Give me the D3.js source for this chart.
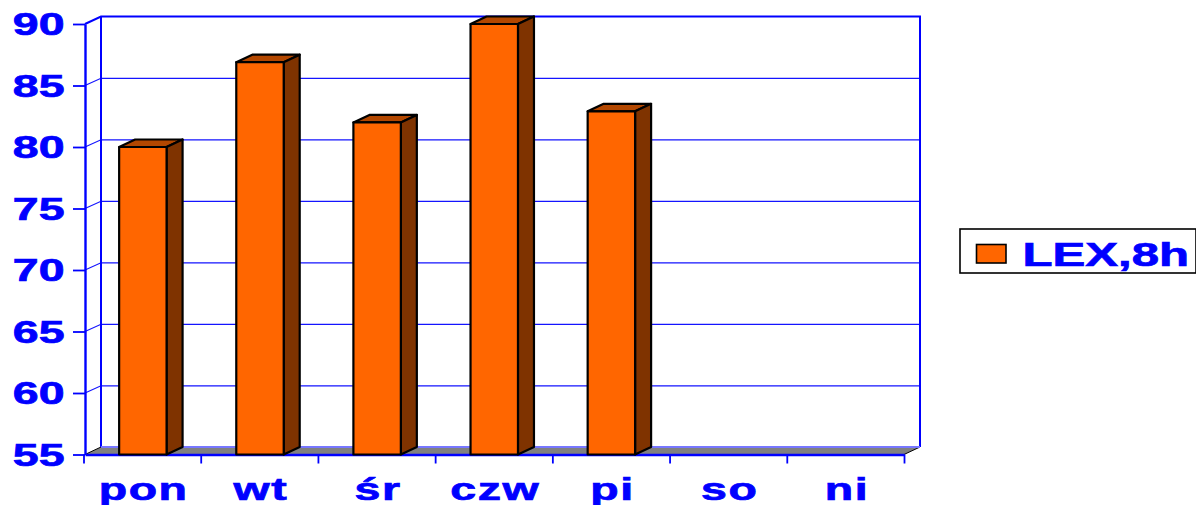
<!DOCTYPE html>
<html>
<head>
<meta charset="utf-8">
<script src="https://cdnjs.cloudflare.com/ajax/libs/d3/7.8.5/d3.min.js"></script>
<style>
  html, body { margin: 0; padding: 0; background: #fff; overflow: hidden; }
  text { font-family: "Liberation Sans", Arial, sans-serif; font-weight: bold; fill: #0000ff; stroke: #0000ff; stroke-width: 0.7px; }
</style>
</head>
<body>
<svg id="chart" width="1196" height="505"></svg>
<script>
const days = ['pon', 'wt', 'śr', 'czw', 'pi', 'so', 'ni']
const lexValues = [80, 86.9, 82, 90, 82.9]
const yTicks = [55, 60, 65, 70, 75, 80, 85, 90]
const seriesName = 'LEX,8h'

const plotLeft = 85, plotRight = 904, plotTop = 24, plotBottom = 454.5
const depthX = 16, depthY = 7.5
const blue = '#0000ff'
const textStretch = 1.5

const svg = d3.select('#chart')
const tickScale = d3.scaleBand().domain(days).range([83.5, plotRight])
const xScale = d3.scaleBand().domain(days).range([84, plotRight + 0.5]).paddingInner(0.595).paddingOuter(0.3)
const yScale = d3.scaleLinear().domain([55, 90]).range([plotBottom, plotTop])

// floor
svg.append('path')
  .attr('d', `M${plotLeft + depthX},${plotBottom - depthY}L${plotRight + depthX},${plotBottom - depthY}L${plotRight},${plotBottom}L${plotLeft},${plotBottom}Z`)
  .attr('fill', '#808080')
  .attr('stroke', 'none')
svg.append('line')
  .attr('x1', plotLeft).attr('y1', plotBottom).attr('x2', plotLeft + depthX).attr('y2', plotBottom - depthY)
  .attr('stroke', '#000').attr('stroke-width', 1)
svg.append('line')
  .attr('x1', plotRight).attr('y1', plotBottom).attr('x2', plotRight + depthX).attr('y2', plotBottom - depthY)
  .attr('stroke', '#000').attr('stroke-width', 1)

// grid lines on the wall
svg.selectAll('.grid')
  .data(yTicks.slice(1, -1))
  .enter()
  .append('path')
  .attr('class', 'grid')
  .attr('d', d => `M${plotLeft},${yScale(d)}L${plotLeft + depthX},${yScale(d) - depthY + 0.3}L${plotRight + depthX},${yScale(d) - depthY + 0.3}`)
  .attr('fill', 'none')
  .attr('stroke', '#1414ff')
  .attr('stroke-width', 1.2)

// wall frame
svg.append('path')
  .attr('d', `M${plotLeft},${plotTop}L${plotLeft + depthX},${plotTop - depthY}L${plotRight + depthX},${plotTop - depthY}L${plotRight + depthX},${plotBottom - depthY}`)
  .attr('fill', 'none')
  .attr('stroke', blue)
  .attr('stroke-width', 2)
svg.append('line')
  .attr('x1', plotLeft + depthX).attr('y1', plotTop - depthY).attr('x2', plotLeft + depthX).attr('y2', plotBottom - depthY)
  .attr('stroke', blue).attr('stroke-width', 2)
svg.append('line')
  .attr('x1', plotLeft + depthX).attr('y1', plotBottom - depthY).attr('x2', plotRight + depthX).attr('y2', plotBottom - depthY)
  .attr('stroke', '#7777ff').attr('stroke-width', 2)

// axes
const yAxis = d3.axisLeft(yScale).tickValues(yTicks).tickSize(12).tickSizeOuter(0)
const yGroup = svg.append('g').attr('transform', `translate(${plotLeft},0)`).call(yAxis)
yGroup.select('.domain').attr('stroke', blue).attr('stroke-width', 2.4)
yGroup.selectAll('.tick line').attr('stroke', blue).attr('stroke-width', 1.8)
yGroup.selectAll('.tick text')
  .attr('font-size', 31)
  .attr('font-family', '"Liberation Sans", Arial, sans-serif')
  .attr('font-weight', 'bold')
  .attr('dy', '0.35em')
  .attr('x', -20.5 / textStretch)
  .attr('transform', `scale(${textStretch},1)`)

const edgeTicks = days.map(d => tickScale(d)).concat(plotRight)
const xAxis = d3.axisBottom(d3.scaleLinear().domain([plotLeft, plotRight]).range([plotLeft, plotRight]))
  .tickValues(edgeTicks).tickSize(9).tickSizeOuter(0).tickFormat('')
const xGroup = svg.append('g').attr('transform', `translate(0,${plotBottom})`).call(xAxis)
xGroup.select('.domain').attr('stroke', blue).attr('stroke-width', 2.4)
xGroup.selectAll('.tick line').attr('stroke', blue).attr('stroke-width', 1.8)

svg.selectAll('.day')
  .data(days)
  .enter()
  .append('text')
  .attr('class', 'day')
  .attr('text-anchor', 'middle')
  .attr('font-size', 31)
  .attr('letter-spacing', 1)
  .attr('transform', d => `translate(${tickScale(d) + tickScale.bandwidth() / 2 + 1.5},500) scale(${textStretch},1)`)
  .text(d => d)

// bars
const barData = lexValues.map((v, i) => ({ day: days[i], value: v }))
const bars = svg.selectAll('.bar').data(barData).enter().append('g').attr('class', 'bar')
  .attr('stroke', '#000').attr('stroke-width', 2.2).attr('stroke-linejoin', 'round')

bars.append('path') // top face
  .attr('fill', '#b34700')
  .attr('d', d => {
    const x = xScale(d.day), w = xScale.bandwidth(), y = yScale(d.value)
    return `M${x},${y}L${x + depthX},${y - depthY}L${x + w + depthX},${y - depthY}L${x + w},${y}Z`
  })
bars.append('path') // side face
  .attr('fill', '#7f3300')
  .attr('d', d => {
    const x = xScale(d.day) + xScale.bandwidth(), y = yScale(d.value)
    return `M${x},${y}L${x + depthX},${y - depthY}L${x + depthX},${plotBottom - depthY}L${x},${plotBottom}Z`
  })
bars.append('rect') // front face
  .attr('fill', '#ff6600')
  .attr('x', d => xScale(d.day))
  .attr('y', d => yScale(d.value))
  .attr('width', xScale.bandwidth())
  .attr('height', d => plotBottom - yScale(d.value))

// legend
const legend = svg.append('g')
legend.append('rect')
  .attr('x', 960).attr('y', 229).attr('width', 236).attr('height', 44)
  .attr('fill', '#fff').attr('stroke', '#000').attr('stroke-width', 1.6)
legend.append('rect')
  .attr('x', 976.5).attr('y', 244.5).attr('width', 29.5).attr('height', 18.5)
  .attr('fill', '#ff6600').attr('stroke', '#000').attr('stroke-width', 1.6)
legend.append('text')
  .attr('font-size', 33)
  .attr('transform', `translate(1022.5,265.5) scale(1.49,1)`)
  .text(seriesName)
</script>
</body>
</html>
